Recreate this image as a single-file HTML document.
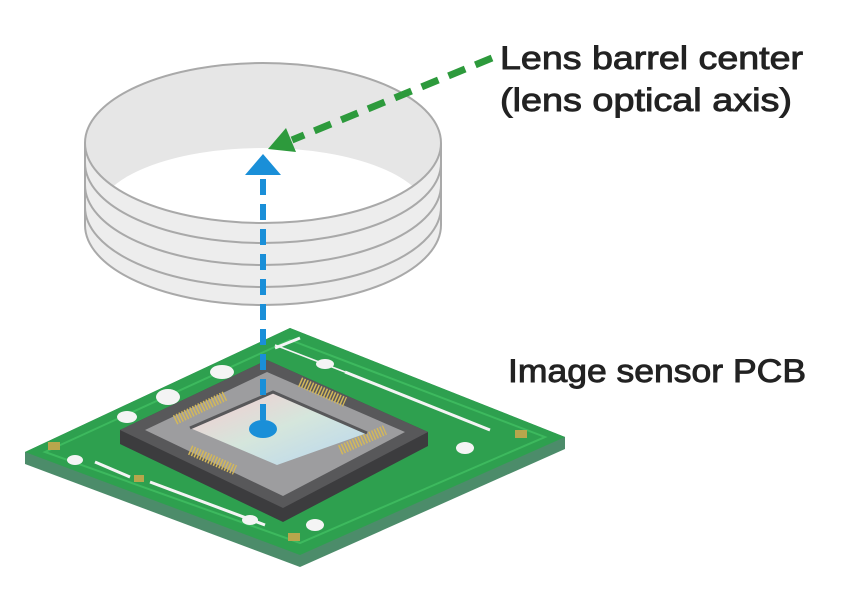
<!DOCTYPE html>
<html><head><style>html,body{margin:0;padding:0;background:#fff}svg{display:block}</style></head>
<body>
<svg width="860" height="597" viewBox="0 0 860 597" xmlns="http://www.w3.org/2000/svg">
<defs>
<linearGradient id="sg" x1="0" y1="0" x2="1" y2="1">
<stop offset="0" stop-color="#f7c9cf"/><stop offset="0.5" stop-color="#d5e6dc"/><stop offset="1" stop-color="#b7d6f0"/>
</linearGradient>
</defs>
<!-- PCB -->
<polygon points="25,452 290,328 565,437 565,449 300,567 25,464" fill="#4c8c6a"/>
<polygon points="25,452 290,328 565,437 300,555" fill="#2ea04f"/>
<polygon points="45,452 290,340 545,437 300,543" fill="none" stroke="#3db95e" stroke-width="2"/>
<g fill="#f4f4f4">
<ellipse cx="222" cy="372" rx="12" ry="7"/><ellipse cx="168" cy="397" rx="12" ry="8"/><ellipse cx="127" cy="417" rx="10" ry="6"/>
<ellipse cx="325" cy="364" rx="9" ry="5"/><ellipse cx="465" cy="448" rx="9" ry="6"/><ellipse cx="315" cy="525" rx="9" ry="6"/>
<ellipse cx="75" cy="460" rx="8" ry="5"/><ellipse cx="250" cy="520" rx="8" ry="5"/>
</g>
<g stroke="#f4f4f4" stroke-width="3">
<line x1="275" y1="348" x2="300" y2="338"/><line x1="345" y1="372" x2="490" y2="430"/><line x1="275" y1="345" x2="345" y2="372" stroke-width="1.5"/>
<line x1="95" y1="462" x2="130" y2="477"/><line x1="150" y1="482" x2="265" y2="525"/>
</g>
<g fill="#b7a64c"><rect x="48" y="442" width="12" height="8"/><rect x="515" y="430" width="12" height="8"/><rect x="288" y="533" width="12" height="8"/><rect x="134" y="475" width="10" height="7"/></g>
<!-- chip -->
<polygon points="120,430 267,360 428,432 428,446 283,522 120,444" fill="#3c3c3e"/>
<polygon points="120,430 267,360 428,432 283,508" fill="#58585a"/>
<polygon points="145,430 267,372 405,432 283,496" fill="#9d9d9f"/>
<g stroke="#d4b85a" stroke-width="1.5" stroke-dasharray="1.5 1.5">
<line x1="175" y1="420" x2="225" y2="396" stroke-width="10"/><line x1="300" y1="382" x2="345" y2="402" stroke-width="10"/>
<line x1="340" y1="450" x2="385" y2="430" stroke-width="10"/><line x1="190" y1="450" x2="235" y2="470" stroke-width="10"/>
</g>
<polygon points="190,428 273,392 367,433 277,465" fill="url(#sg)"/>
<polyline points="190,428 273,392 367,433" fill="none" stroke="#58585a" stroke-width="3"/>
<!-- lens barrel -->
<ellipse cx="263" cy="143" rx="178" ry="80" fill="#e6e6e6"/>
<ellipse cx="263" cy="214" rx="165" ry="66" fill="#fff"/>
<path d="M85,143 A178,80 0 0 0 441,143 L441,225 A178,80 0 0 1 85,225 Z" fill="#e8e8e8" opacity="0.8"/>
<g fill="none" stroke="#a9a9a9" stroke-width="2">
<ellipse cx="263" cy="143" rx="178" ry="80"/>
<path d="M85,163 A178,80 0 0 0 441,163"/><path d="M85,185 A178,80 0 0 0 441,185"/>
<path d="M85,207 A178,80 0 0 0 441,207"/><path d="M85,225 A178,80 0 0 0 441,225"/>
<line x1="85" y1="143" x2="85" y2="225"/><line x1="441" y1="143" x2="441" y2="225"/>
</g>
<!-- blue arrow -->
<line x1="263" y1="420" x2="263" y2="175" stroke="#1a8fd8" stroke-width="6" stroke-dasharray="16 9"/>
<polygon points="245,175 263,154 281,175" fill="#1a8fd8"/>
<ellipse cx="263" cy="429" rx="14" ry="9" fill="#1a8fd8"/>
<line x1="263" y1="415" x2="263" y2="428" stroke="#1a8fd8" stroke-width="5"/>
<!-- green arrow -->
<line x1="492" y1="58" x2="292" y2="140" stroke="#2d9a3c" stroke-width="7" stroke-dasharray="18 11"/>
<polygon points="268,149 286,128 296,152" fill="#2d9a3c"/>
<!-- text -->
<g font-family="'Liberation Sans',sans-serif" fill="#222" stroke="#222" stroke-width="0.9">
<text x="500" y="69" font-size="32" textLength="303" lengthAdjust="spacingAndGlyphs">Lens barrel center</text>
<text x="500" y="111" font-size="32" textLength="292" lengthAdjust="spacingAndGlyphs">(lens optical axis)</text>
<text x="508" y="382" font-size="32" textLength="298" lengthAdjust="spacingAndGlyphs">Image sensor PCB</text>
</g>
</svg>
</body></html>
